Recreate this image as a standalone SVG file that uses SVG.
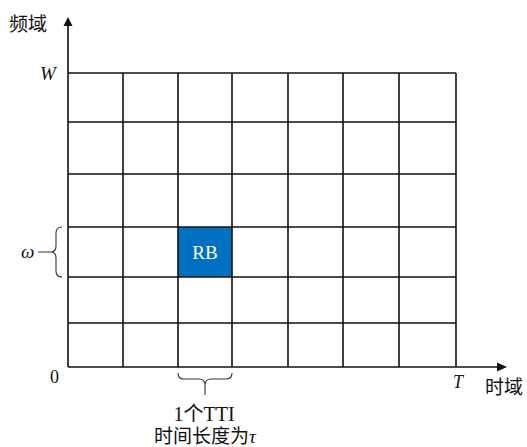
<svg xmlns="http://www.w3.org/2000/svg" width="527" height="447" viewBox="0 0 527 447">
<style>
.g{stroke:#111;stroke-width:1.6;fill:none}
.br{stroke:#333;stroke-width:1.1;fill:none}
.t{font-family:"Liberation Serif","Noto Sans CJK SC",serif;fill:#111}
.i{font-style:italic}
</style>
<rect width="527" height="447" fill="#fff"/>
<g id="rb">
<rect x="178" y="227" width="54" height="50" fill="#0070C0"/>
<text class="t" x="205" y="259" font-size="19" text-anchor="middle" style="fill:#fff">RB</text>
</g>
<g id="grid" class="g">
<path d="M68,73H456M68,122H456M68,174H456M68,227H456M68,277H456M68,323H456"/>
<path d="M123,73V367M178,73V367M232,73V367M288,73V367M343,73V367M399,73V367M456,73V367"/>
</g>
<g id="connectors">
<path class="g" d="M68,367V24M68,367H499"/>
<polygon points="68,17 63.5,26 72.5,26" fill="#111"/>
<polygon points="507,367 497,362.5 497,371.5" fill="#111"/>
<path class="br" d="M62,227Q56,227 56,233V246Q56,252 51,252Q56,252 56,258V271Q56,277 62,277M38,252H51"/>
<path class="br" d="M178,373Q178,379 184,379H199Q205,379 205,385Q205,379 211,379H226Q232,379 232,373M205,385V395"/>
</g>
<g id="labels">
<text class="t" x="9" y="31" font-size="19">频域</text>
<text class="t i" x="40" y="80" font-size="19">W</text>
<text class="t i" x="21" y="258" font-size="19">ω</text>
<text class="t" x="50" y="383" font-size="18">0</text>
<text class="t i" x="453" y="388" font-size="18">T</text>
<text class="t" x="485" y="394" font-size="19">时域</text>
<text class="t" x="204" y="421" font-size="20" text-anchor="middle">1个TTI</text>
<text class="t" x="205" y="443" font-size="19" text-anchor="middle">时间长度为<tspan class="i">τ</tspan></text>
</g>
</svg>
